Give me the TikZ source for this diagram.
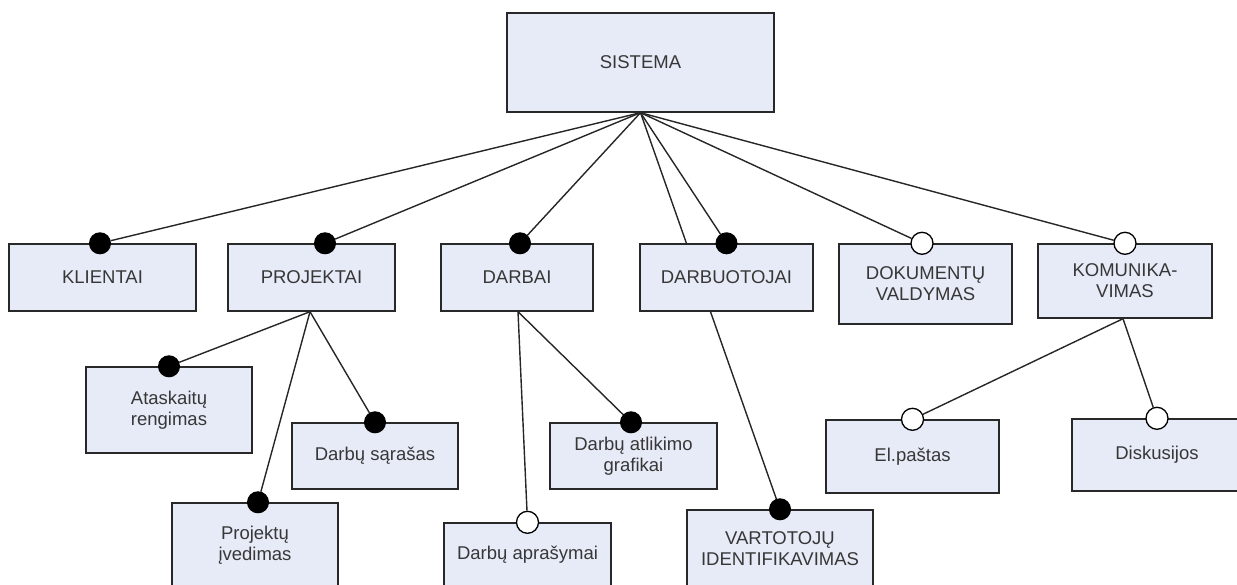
\documentclass[tikz,border=0pt]{standalone}
\usepackage{fontspec}
\setmainfont{Liberation Sans}
\usetikzlibrary{backgrounds}
\definecolor{boxfill}{RGB}{230,235,247}
\definecolor{boxline}{RGB}{40,40,40}
\definecolor{txt}{RGB}{55,55,55}
\tikzset{
  blk/.style={draw=boxline, line width=1.4pt, fill=boxfill, rectangle,
    inner sep=0pt, align=center, text=txt,
    font=\fontsize{18.5}{21}\selectfont},
  dotfill/.style={circle, fill=black, draw=black, line width=1pt,
    minimum size=21pt, inner sep=0pt},
  dotopen/.style={circle, fill=white, draw=black, line width=1.3pt,
    minimum size=22pt, inner sep=0pt},
  link/.style={draw=black!85, line width=1.4pt}
}
\newcommand{\blkbox}[5]{% name, cx, cy, w, h, text
  \node[blk, minimum width=#4pt, minimum height=#5pt] (#1) at (#2,#3)}
\begin{document}
\begin{tikzpicture}[x=1pt, y=-1pt]
\useasboundingbox (0,0) rectangle (1237,585);
\clip (0,0) rectangle (1237,585);

% top level
\blkbox{sis}{640.5}{62.5}{267}{99} {SISTEMA};
% second level
\blkbox{kli}{102.5}{277.5}{187}{67} {KLIENTAI};
\blkbox{proj}{311.5}{277.5}{167}{67} {PROJEKTAI};
\blkbox{darb}{517}{277.5}{152}{67} {DARBAI};
\blkbox{darbuot}{726.5}{277.5}{173}{67} {DARBUOTOJAI};
\blkbox{dok}{925.5}{284}{173}{80} {DOKUMENTŲ\\VALDYMAS};
\blkbox{kom}{1125}{281}{174}{74} {KOMUNIKA-\\VIMAS};
% third level
\blkbox{atask}{169}{410}{166}{86} {Ataskaitų\\rengimas};
\blkbox{sar}{375}{456}{166}{66} {Darbų sąrašas};
\blkbox{ived}{255}{545}{166}{84} {Projektų\\įvedimas};
\blkbox{graf}{633.5}{456}{167}{66} {Darbų atlikimo\\grafikai};
\blkbox{apr}{527.5}{555}{167}{64} {Darbų aprašymai};
\blkbox{vart}{780}{548.5}{186}{77} {VARTOTOJŲ\\IDENTIFIKAVIMAS};
\blkbox{pas}{912.5}{456.5}{173}{73} {El.paštas};
\blkbox{disk}{1157}{455}{170}{72} {Diskusijos};

% connection markers on the top edges
\node[dotfill] (dkli) at ([xshift=-2.5pt]kli.north) {};
\node[dotfill] (dproj) at ([xshift=13.5pt]proj.north) {};
\node[dotfill] (ddarb) at ([xshift=3pt]darb.north) {};
\node[dotfill] (ddarbuot) at (darbuot.north) {};
\node[dotopen] (ddok) at ([xshift=-3.5pt]dok.north) {};
\node[dotopen] (dkom) at (kom.north) {};
\node[dotfill] (datask) at (atask.north) {};
\node[dotfill] (dsar) at (sar.north) {};
\node[dotfill] (dived) at ([xshift=3pt]ived.north) {};
\node[dotfill] (dgraf) at ([xshift=-2.5pt]graf.north) {};
\node[dotopen] (dapr) at (apr.north) {};
\node[dotfill] (dvart) at (vart.north) {};
\node[dotopen] (dpas) at (pas.north) {};
\node[dotopen] (ddisk) at (disk.north) {};

% connectors, kept behind the boxes
\begin{scope}[on background layer]
  \foreach \t in {dkli,dproj,ddarb,ddarbuot,ddok,dkom,dvart}
    \path[link] (sis.south) -- (\t);
  \foreach \t in {datask,dsar,dived}
    \path[link] ([xshift=-1.5pt]proj.south) -- (\t);
  \foreach \t in {dgraf,dapr}
    \path[link] ([xshift=1pt]darb.south) -- (\t);
  \foreach \t in {dpas,ddisk}
    \path[link] ([xshift=-2pt]kom.south) -- (\t);
\end{scope}
\end{tikzpicture}
\end{document}
